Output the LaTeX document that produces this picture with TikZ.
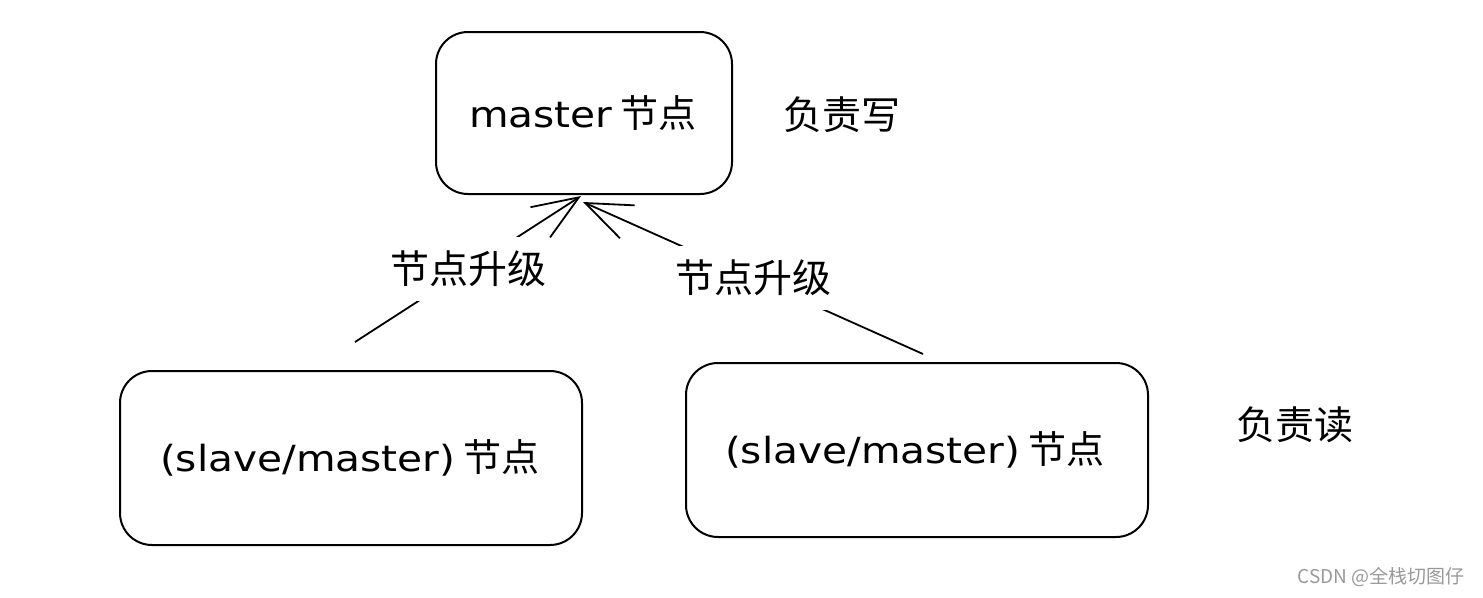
\documentclass[tikz,border=0pt]{standalone}
\usepackage{fontspec}
\setmainfont{Noto Sans CJK SC}
\newfontfamily\latinhand[FakeStretch=1.13]{DejaVu Sans}
\usetikzlibrary{arrows.meta}
\tikzset{
  box/.style={draw=black, line width=2pt, rounded corners=32pt, inner sep=0pt},
  boxtext/.style={font=\fontsize{38}{40}\selectfont},
  side/.style={font=\fontsize{39}{42}\selectfont},
  lab/.style={fill=white, inner xsep=0pt, inner ysep=14pt, font=\fontsize{39}{42}\selectfont},
  conn/.style={line width=1.8pt, -{Straight Barb[length=46pt,width=36pt,line width=1.8pt]}},
  wmark/.style={text=gray!80, font=\fontsize{19}{21}\selectfont}
}
\newcommand{\lat}[1]{{\latinhand\fontsize{36}{40}\selectfont #1}}
\begin{document}
\begin{tikzpicture}[x=1pt,y=-1pt]
\useasboundingbox[fill=white] (0,0) rectangle (1483,597);
\node[box, minimum width=296pt, minimum height=162pt] (master) at (584,113) {};
\node[boxtext] (mastertext) at (583,113) {\lat{master} 节点};
\node[box, minimum width=462pt, minimum height=174pt] (left) at (351,458) {};
\node[boxtext] (lefttext) at (350,458) {\lat{(slave/master)} 节点};
\node[box, minimum width=462pt, minimum height=174pt] (right) at (917,450) {};
\node[boxtext] (righttext) at (915,450) {\lat{(slave/master)} 节点};
\node[side] (write) at (842,115) {负责写};
\node[side] (read) at (1295,425) {负责读};
\coordinate (ls) at (355,342);
\coordinate (rs) at (923,354);
\coordinate (ltip) at (581,196);
\coordinate (rtip) at (583,202);
\draw[conn] (ls) -- node[lab, pos=0.5] (llab) {节点升级} (ltip);
\draw[conn] (rs) -- node[lab, pos=0.5] (rlab) {节点升级} (rtip);
\node[wmark] (wm) at (1381,577) {CSDN @全栈切图仔};
\end{tikzpicture}
\end{document}
